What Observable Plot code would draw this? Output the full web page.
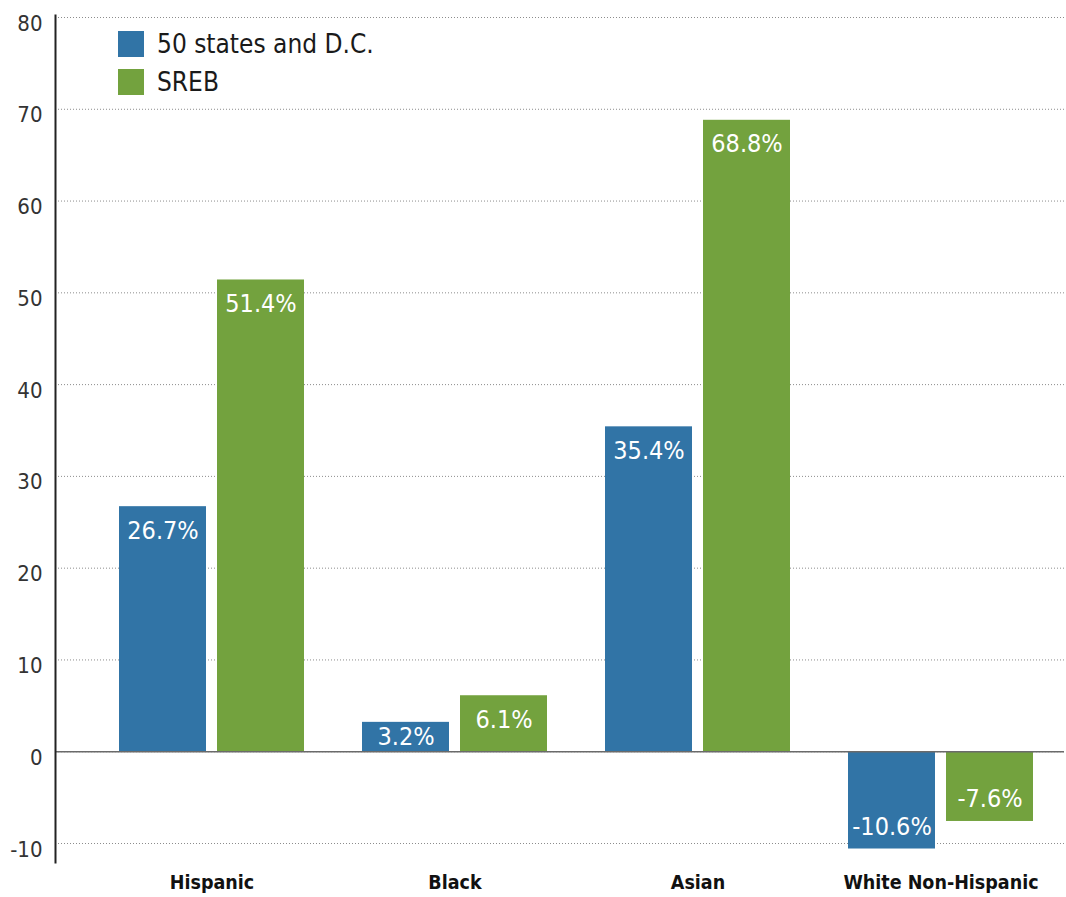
<!DOCTYPE html>
<html>
<head>
<meta charset="utf-8">
<script src="https://cdn.jsdelivr.net/npm/d3@7"></script>
<script src="https://cdn.jsdelivr.net/npm/@observablehq/plot@0.6"></script>
<style>
  html, body { margin: 0; padding: 0; background: #fff; }
  #chart { position: relative; width: 1066px; height: 897px; }
  .legend {
    position: absolute; left: 118px; top: 31px;
    font-family: "DejaVu Sans Condensed", "Liberation Sans Narrow", sans-serif;
    font-size: 26px; color: #1a1a1a;
  }
  .legend .row { display: flex; align-items: center; height: 26px; margin-bottom: 12px; }
  .legend .sw { width: 26px; height: 26px; margin-right: 13px; }
</style>
</head>
<body>
<div id="chart"></div>
<script>
// Percent change by group, 50 states and D.C. vs. SREB states
const categories = ["Hispanic", "Black", "Asian", "White Non-Hispanic"];
const seriesNames = ["50 states and D.C.", "SREB"];
const nationalValues = [26.7, 3.2, 35.4, -10.6];
const srebValues = [51.4, 6.1, 68.8, -7.6];
const yTicks = [-10, 0, 10, 20, 30, 40, 50, 60, 70, 80];
const colors = ["#3174a6", "#73a23e"];

const font = "'DejaVu Sans Condensed', 'Liberation Sans Narrow', sans-serif";

const rows = (values, s) => values.map((v, i) => ({category: categories[i], series: seriesNames[s], value: v}));
const national = rows(nationalValues, 0);
const sreb = rows(srebValues, 1);

// Each category band holds a pair of bars; insets split it into left and right bars
const barW = 87, pairW = 185;
const side = pairW - barW;
const labelShift = (pairW - barW) / 2;

// Value label sits just inside the bar's end, or mid-bar when the bar is short
const labelY = d => d.value >= 0 ? Math.max(d.value / 2, d.value - 2.6) : Math.min(d.value / 2, d.value + 2.4);

const valueText = (data, dx) => Plot.text(data, {
  x: "category", y: labelY, text: d => d.value.toFixed(1) + "%",
  dx, fill: "white", fontSize: 25, textAnchor: "middle", lineAnchor: "middle"
});

const chart = Plot.plot({
  width: 1066,
  height: 897,
  marginLeft: 55,
  marginRight: 2,
  marginTop: 15,
  marginBottom: 35,
  style: {fontFamily: font, background: "white", overflow: "visible"},
  x: {domain: categories, paddingInner: 0.24, paddingOuter: 0.192, align: 0.674, label: null},
  y: {domain: [-10, 80], insetTop: 2, insetBottom: 19, label: null},
  marks: [
    Plot.gridY(yTicks, {stroke: "#8c8c8c", strokeOpacity: 1, strokeDasharray: "1,2"}),
    Plot.axisY(yTicks, {tickSize: 0, tickPadding: 13, fontSize: 22, fill: "#333", dy: 6, tickFormat: d => String(d), label: null}),
    Plot.axisX({tickSize: 0, tickPadding: 13, fontSize: 19.5, fontWeight: "bold", fill: "#111", label: null}),
    Plot.barY(national, {x: "category", y: "value", fill: colors[0], insetRight: side}),
    Plot.barY(sreb, {x: "category", y: "value", fill: colors[1], insetLeft: side}),
    Plot.ruleY([0], {stroke: "#6a6a6a", strokeWidth: 1.5}),
    Plot.frame({anchor: "left", stroke: "#222", strokeWidth: 2}),
    valueText(national, -labelShift),
    valueText(sreb, labelShift)
  ]
});

const host = document.getElementById("chart");
host.appendChild(chart);

// Legend overlaid in the upper-left corner of the plot
const legend = document.createElement("div");
legend.className = "legend";
seriesNames.forEach((name, i) => {
  const row = document.createElement("div");
  row.className = "row";
  const sw = document.createElement("div");
  sw.className = "sw";
  sw.style.background = colors[i];
  const label = document.createElement("span");
  label.textContent = name;
  row.appendChild(sw);
  row.appendChild(label);
  legend.appendChild(row);
});
host.appendChild(legend);
</script>
</body>
</html>
